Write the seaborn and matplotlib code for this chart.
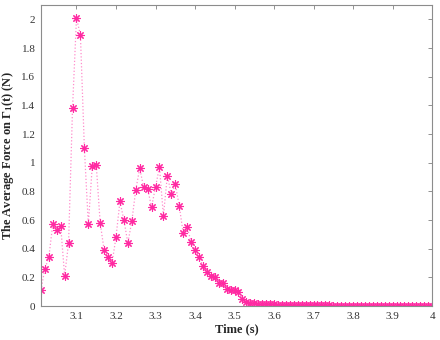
import numpy as np
import seaborn as sns
import matplotlib
matplotlib.use('Agg')
import matplotlib.pyplot as plt

# time samples (s), 3.01 .. 4.00 every 0.01
time = np.round(np.linspace(3.01, 4.00, 100), 2)

# average force on Gamma_1 (N)
force_peak = [0.11, 0.26, 0.34, 0.57, 0.53, 0.56, 0.21, 0.44, 1.38, 2.01,
              1.89, 1.10, 0.57, 0.98, 0.985, 0.58, 0.39, 0.34, 0.30, 0.48,
              0.73, 0.60, 0.44, 0.59, 0.81, 0.96, 0.83, 0.82, 0.69, 0.83,
              0.97, 0.63, 0.91, 0.78, 0.85, 0.70, 0.51, 0.55, 0.45, 0.39,
              0.34, 0.28, 0.24, 0.21, 0.20, 0.16, 0.16, 0.12, 0.115, 0.11,
              0.10, 0.047]
force_tail = [0.025, 0.020, 0.018, 0.017, 0.015, 0.014, 0.012, 0.011, 0.010, 0.009,
              0.008, 0.008, 0.007, 0.006, 0.006, 0.005, 0.005, 0.005, 0.004, 0.004,
              0.004, 0.004, 0.003, 0.003, 0.003, 0.003, 0.003, 0.003, 0.003, 0.003,
              0.003, 0.003, 0.002, 0.002, 0.002, 0.002, 0.002, 0.002, 0.002, 0.002,
              0.002, 0.002, 0.002, 0.002, 0.002, 0.002, 0.002, 0.002]
force = force_peak + force_tail

xticks = [3.1, 3.2, 3.3, 3.4, 3.5, 3.6, 3.7, 3.8, 3.9, 4]
xticklabels = ['3.1', '3.2', '3.3', '3.4', '3.5', '3.6', '3.7', '3.8', '3.9', '4']
yticks = [0, 0.2, 0.4, 0.6, 0.8, 1, 1.2, 1.4, 1.6, 1.8, 2]
yticklabels = ['0', '0.2', '0.4', '0.6', '0.8', '1', '1.2', '1.4', '1.6', '1.8', '2']

sns.set_style('white')
plt.rcParams['font.family'] = ['Liberation Serif', 'DejaVu Serif']
plt.rcParams['mathtext.fontset'] = 'custom'
plt.rcParams['mathtext.rm'] = 'Liberation Serif'
plt.rcParams['mathtext.it'] = 'Liberation Serif:italic'
plt.rcParams['mathtext.bf'] = 'Liberation Serif:bold'

pink = '#ff2aa2'
light_pink = '#ff8ccb'

fig = plt.figure(figsize=(4.4, 3.4), dpi=100)
ax = fig.add_axes([0.093, 0.1, 0.889, 0.885])

# MATLAB-like ':*' line: light dotted line, asterisk markers
sns.lineplot(x=time, y=force, ax=ax, color=light_pink, linestyle=':', linewidth=0.9,
             marker=(8, 2, 0), markersize=6, markeredgecolor=pink,
             markerfacecolor=pink, markeredgewidth=0.8)

ax.set_xlim(3.01, 4)
ax.set_ylim(0, 2.1)
ax.set_xticks(xticks)
ax.set_xticklabels(xticklabels)
ax.set_yticks(yticks)
ax.set_yticklabels(yticklabels)

ax.tick_params(direction='in', length=3, width=0.6, colors='#808080',
               labelcolor='#333333', labelsize=8, top=True, right=True, pad=4)
for s in ax.spines.values():
    s.set_visible(True)
    s.set_color('#8c8c8c')
    s.set_linewidth(0.8)

ax.set_xlabel('Time (s)', fontsize=9, fontweight='bold', labelpad=2)
ax.set_ylabel(r'The Average Force on $\mathbf{\Gamma_1}$(t) (N)', fontsize=9,
              fontweight='bold', labelpad=4)

fig.savefig('out.png', dpi=100)
